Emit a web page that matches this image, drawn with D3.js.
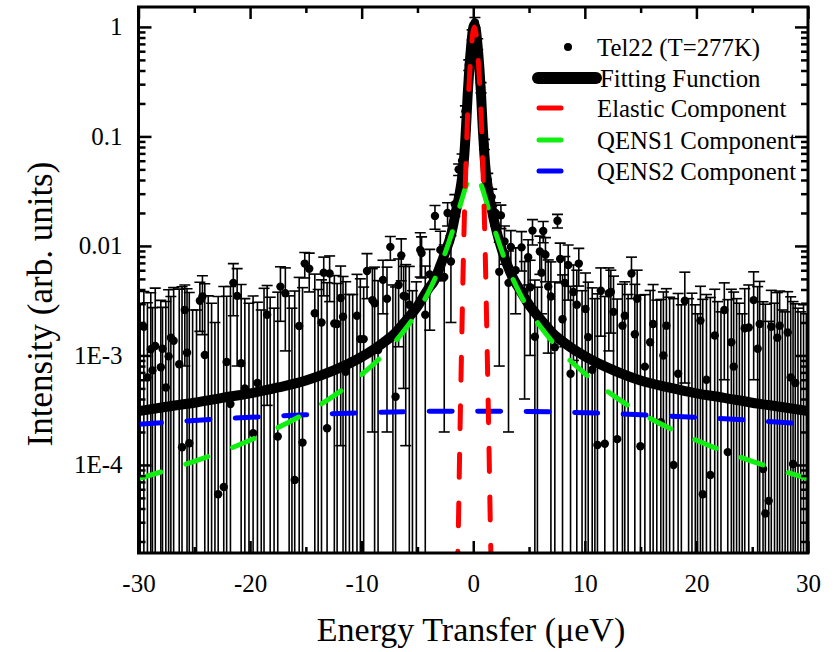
<!DOCTYPE html>
<html><head><meta charset="utf-8">
<script src="https://cdn.jsdelivr.net/npm/d3@7/dist/d3.min.js"></script>
<style>
body{margin:0;background:#fff}
text{font-family:"Liberation Serif","Times New Roman",serif;fill:#000}
</style>
</head><body>
<svg id="chart" width="834" height="652"></svg>
<script>
// ---- tick labels & legend ----
const xTickValues = [-30, -20, -10, 0, 10, 20, 30];
const xTickLabels = ["-30", "-20", "-10", "0", "10", "20", "30"];
const yTickValues = [1, 0.1, 0.01, 1e-3, 1e-4];
const yTickLabels = ["1", "0.1", "0.01", "1E-3", "1E-4"];
const xTitle = "Energy Transfer (\u03bceV)";
const yTitle = "Intensity (arb. units)";
const legendLabels = ["Tel22 (T=277K)", "Fitting Function", "Elastic Component", "QENS1 Component", "QENS2 Component"];

// ---- measured data: energy, intensity, error (negative intensity = bar only, point below zero) ----
const dataE = [-29.52,-29.2,-28.9,-28.75,-28.5,-28.0,-27.85,-27.55,-27.3,-27.1,-26.85,-26.35,-26.1,-25.85,-25.65,-25.45,-24.5,-24.27,-24.06,-22.86,-22.36,-22.1,-21.76,-21.5,-21.16,-20.8,-20.47,-19.73,-19.34,-18.47,
 -17.52,-17.28,-16.84,-16.0,-15.6,-15.3,-15.1,-14.7,-14.2,-13.6,-13.4,-13.1,-12.87,-12.45,-12.2,-11.88,-11.67,-11.43,-10.42,-10.12,-9.82,-9.52,-9.04,-8.84,-8.53,-8.09,-7.73,-7.43,-6.96,-6.69,-6.45,-6.24,
 -6.05,-5.73,-4.75,-4.63,-4.3,-3.9,-3.43,-2.95,-2.6,-2.3,-2.0,-1.65,-1.31,-1.0,-0.7,-0.4,-0.1,0.15,0.4,0.7,1.0,1.3,1.65,2.0,2.33,2.48,2.8,3.16,3.37,3.8,4.33,4.6,4.92,5.1,5.31,5.52,
 5.97,6.12,6.27,6.47,6.72,6.96,7.31,7.55,7.79,8.0,8.21,8.51,8.72,8.98,9.28,9.46,10.06,10.3,10.66,11.13,11.43,11.79,12.15,12.33,12.57,12.9,13.37,13.58,14.18,14.48,14.69,14.98,15.38,15.85,16.12,16.81,17.04,17.31,17.95,
 18.36,18.96,20.36,20.57,20.9,21.25,21.64,22.5,22.81,23.13,23.34,24.33,24.69,25.13,25.49,25.67,25.97,26.18,26.48,26.71,27.25,27.46,28.18,28.45,28.66,28.86,
 -29.85,-25.15,-24.8,-23.75,-23.45,-23.15,-20.1,-19.0,-18.75,-18.2,-17.85,-16.5,-16.25,-13.9,-11.1,-10.8,-7.2,-5.45,-5.1,5.75,9.75,10.9,13.88,16.45,17.6,18.65,19.3,19.6,19.9,20.1,21.9,22.2,23.6,23.85,24.1,27.0,27.7,27.95,29.1,29.35,29.6,29.85];
const dataI = [1.83e-3,6.3e-4,1.14e-3,7.3e-4,1.22e-3,7.8e-4,1.15e-3,5.1e-4,9.8e-4,1.45e-3,1.36e-3,8.3e-4,1.45e-4,2.6e-3,1.06e-3,1.58e-4,3.16e-3,3.45e-3,1.01e-3,5.4e-5,6.3e-5,8.7e-4,3.6e-4,4.6e-3,3.5e-3,8.5e-4,5.0e-4,1.95e-4,5.6e-4,2.35e-3,
 1.82e-4,4.25e-3,3.7e-3,7.3e-5,1.86e-3,1.6e-4,6.9e-3,6.2e-3,2.43e-3,2.0e-3,5.7e-3,2.16e-4,5.6e-3,1.96e-3,1.94e-3,3.35e-3,2.26e-3,7.1e-4,2.3e-3,1.41e-3,1.41e-3,5.9e-3,3.2e-3,3.0e-3,1.12e-3,4.9e-3,3.3e-3,9.8e-3,4.2e-4,4.4e-3,8.2e-3,3.5e-3,
 3.45e-3,2.9e-3,9.2e-3,8.6e-3,2.35e-3,5.5e-3,1.88e-2,9.2e-3,5.2e-3,2.0e-2,7.2e-3,2.4e-2,5.0e-2,0.06,0.17,0.45,0.85,1.1,0.7,0.28,0.085,0.04,0.028,0.02,5.8e-3,1.9e-2,1.1e-2,4.6e-3,9.8e-3,6.0e-3,9.7e-3,3.8e-3,7.9e-3,4.2e-3,1.38e-2,1.48e-3,
 8.9e-3,5.7e-3,1.37e-2,8.3e-3,4.25e-3,3.45e-3,1.19e-3,1.7e-2,7.6e-3,2.14e-3,4.6e-3,6.7e-3,6.8e-4,3.8e-3,2.9e-3,6.9e-3,2.66e-3,1.47e-3,7.4e-4,1.52e-4,3.9e-3,1.56e-4,3.7e-3,3.8e-3,2.5e-3,1.72e-4,1.87e-3,2.3e-3,5.6e-3,1.56e-3,3.3e-3,1.48e-4,7.9e-4,1.32e-3,1.94e-3,2.46e-4,1.0e-3,1.87e-3,1.0e-4,
 6.8e-4,3.16e-3,2.08e-3,5.4e-5,6.0e-4,8.1e-5,1.52e-3,2.6e-3,1.31e-4,1.32e-3,7.9e-4,1.77e-3,1.8e-3,3.2e-3,1.15e-3,1.94e-3,9.2e-5,3.6e-5,4.7e-5,1.83e-3,1.45e-3,1.87e-3,1.62e-3,6.3e-4,1.02e-4,5.6e-4,
 -3e-4,-4e-4,-2e-4,-5e-4,-3e-4,-6e-4,-4e-4,-3e-4,-5e-4,-2e-4,-4e-4,-3e-4,-5e-4,-4e-4,-3e-4,-6e-4,-4e-4,-5e-4,-3e-4,-4e-4,-3e-4,-5e-4,-4e-4,-3e-4,-5e-4,-4e-4,-3e-4,-5e-4,-2e-4,-4e-4,-3e-4,-5e-4,-4e-4,-2e-4,-5e-4,-3e-4,-4e-4,-2e-4,-4e-4,-3e-4,-5e-4,-2e-4];
const dataErr = [2.0e-3,2.4e-3,2.6e-3,2.0e-3,2.9e-3,2.4e-3,1.6e-3,2.6e-3,3.0e-3,2.0e-3,2.8e-3,3.2e-3,4.1e-3,1.8e-3,3.0e-3,3.6e-3,1.5e-3,1.9e-3,3.5e-3,3.4e-3,4.2e-3,2.6e-3,3.9e-3,2.3e-3,2.7e-3,3.6e-3,2.8e-3,3.3e-3,2.5e-3,2.0e-3,
 3.6e-3,2.2e-3,2.6e-3,3.8e-3,3.3e-3,4.0e-3,1.8e-3,2.4e-3,3.1e-3,2.9e-3,2.2e-3,4.4e-3,2.5e-3,3.4e-3,2.6e-3,3.2e-3,3.0e-3,4.0e-3,3.2e-3,3.6e-3,2.8e-3,2.6e-3,3.0e-3,3.4e-3,3.7e-3,2.5e-3,3.1e-3,2.4e-3,3.8e-3,3.2e-3,3.4e-3,3.0e-3,
 3.3e-3,3.6e-3,4.0e-3,3.5e-3,4.2e-3,3.8e-3,4.6e-3,4.4e-3,5.0e-3,4.8e-3,5.2e-3,5.4e-3,6.0e-3,9.0e-3,0.02,0.05,0.09,0.12,0.08,0.03,9.0e-3,6.0e-3,5.0e-3,4.8e-3,5.0e-3,4.6e-3,4.2e-3,4.4e-3,4.0e-3,3.6e-3,3.8e-3,3.4e-3,3.5e-3,3.2e-3,3.6e-3,3.4e-3,
 3.4e-3,3.3e-3,3.0e-3,3.6e-3,3.2e-3,3.7e-3,3.5e-3,2.4e-3,3.0e-3,3.3e-3,3.4e-3,3.5e-3,3.6e-3,2.9e-3,3.1e-3,2.6e-3,3.0e-3,3.2e-3,3.4e-3,3.5e-3,2.4e-3,3.3e-3,2.6e-3,2.2e-3,2.8e-3,3.1e-3,2.6e-3,2.4e-3,2.3e-3,2.9e-3,2.7e-3,3.4e-3,2.8e-3,2.6e-3,2.5e-3,3.0e-3,2.8e-3,2.2e-3,3.2e-3,
 3.0e-3,2.6e-3,2.2e-3,3.2e-3,3.0e-3,3.3e-3,2.5e-3,2.0e-3,3.1e-3,2.7e-3,3.0e-3,2.3e-3,2.6e-3,2.6e-3,3.1e-3,2.8e-3,3.0e-3,2.9e-3,2.0e-3,2.1e-3,2.3e-3,2.0e-3,2.2e-3,2.8e-3,3.0e-3,2.4e-3,
 3.2e-3,3.0e-3,2.8e-3,4.0e-3,3.3e-3,2.6e-3,3.4e-3,2.9e-3,4.6e-3,3.6e-3,3.1e-3,3.8e-3,3.2e-3,4.4e-3,3.9e-3,4.2e-3,4.8e-3,4.4e-3,5.0e-3,4.6e-3,4.2e-3,3.8e-3,4.0e-3,3.5e-3,3.9e-3,3.3e-3,3.6e-3,4.2e-3,3.1e-3,2.8e-3,3.4e-3,3.0e-3,3.7e-3,3.2e-3,2.9e-3,3.3e-3,3.0e-3,2.7e-3,3.1e-3,2.8e-3,3.4e-3,2.6e-3];

// ---- fitted curves ----
const fitE = [-30,-27.5,-25,-22.5,-20,-17.5,-15,-12.5,-10,-8,-7,-6,-5,-4,-3.5,-3,-2.5,-2,-1.5,-1.25,-1,-0.8,-0.65,-0.5,-0.35,-0.2,-0.05,0.1,0.25,0.4,0.55,0.7,0.85,1.0,1.15,1.35,1.6,2.1,2.6,3.1,3.6,4.1,5.1,6.1,7.1,8.1,10.1,12.6,15,17.5,20,22.5,25,27.5,30];
const fitI = [3.1e-4,3.4e-4,3.7e-4,4.1e-4,4.5e-4,5.1e-4,5.9e-4,7.3e-4,9.7e-4,1.32e-3,1.6e-3,2.1e-3,2.8e-3,4.1e-3,4.8e-3,6.4e-3,8.8e-3,0.0125,0.022,0.029,0.042,0.068,0.12,0.24,0.42,0.65,0.92,1.04,0.92,0.65,0.42,0.24,0.12,0.068,0.045,0.032,0.023,0.0135,9.0e-3,6.5e-3,5.0e-3,4.1e-3,2.8e-3,2.1e-3,1.6e-3,1.32e-3,9.7e-4,7.3e-4,5.9e-4,5.1e-4,4.5e-4,4.1e-4,3.7e-4,3.4e-4,3.1e-4];
const elasticE = [-1.45,-1.35,-1.2,-1.05,-0.9,-0.775,-0.65,-0.525,-0.4,-0.275,-0.15,-0.025,0.1,0.225,0.35,0.475,0.6,0.725,0.85,0.975,1.1,1.25,1.4,1.55,1.65];
const elasticI = [8e-6,2.2e-5,1.7e-4,1.1e-3,6.5e-3,0.022,0.058,0.14,0.27,0.45,0.67,0.9,1.0,0.9,0.67,0.45,0.27,0.14,0.058,0.022,6.5e-3,1.1e-3,1.7e-4,2.2e-5,8e-6];
const qens1E = [-30,-25,-20,-15,-12.5,-10,-8,-6,-5,-4,-3,-2,-1.5,-1,-0.5,0,0.1,0.6,1.1,1.6,2.1,3.1,4.1,5.1,6.1,8.1,10.1,12.6,15,20,25,30];
const qens1I = [7.5e-5,1.08e-4,1.68e-4,2.98e-4,4.27e-4,6.7e-4,1.03e-3,1.79e-3,2.5e-3,3.8e-3,6.4e-3,0.0123,0.018,0.027,0.0385,0.044,0.045,0.0385,0.027,0.018,0.0123,6.4e-3,3.8e-3,2.5e-3,1.79e-3,1.03e-3,6.7e-4,4.27e-4,2.98e-4,1.68e-4,1.08e-4,7.5e-5];
const qens2E = [-30,-25,-20,-15,-10,-5,0,5,10,15,20,25,30];
const qens2I = [2.35e-4,2.55e-4,2.72e-4,2.87e-4,3.0e-4,3.08e-4,3.1e-4,3.08e-4,3.0e-4,2.87e-4,2.72e-4,2.55e-4,2.35e-4];

// ---- layout ----
const svg = d3.select("#chart");
const L = 138.5, R = 808, T = 7, B = 553;
const x = d3.scaleLinear().domain([-30, 30]).range([L, R]);
const y = d3.scaleLog().domain([1.57e-5, 1.52]).range([B, T]);

svg.append("rect").attr("width", 834).attr("height", 652).attr("fill", "#fff");
svg.append("defs").append("clipPath").attr("id", "clip")
  .append("rect").attr("x", L).attr("y", T).attr("width", R - L).attr("height", B - T);

const plot = svg.append("g").attr("clip-path", "url(#clip)");

// error bars
const pts = dataE.map((e, i) => ({e, v: dataI[i], s: dataErr[i]}));
const capW = 5.5;
const eb = plot.append("g").attr("stroke", "#000").attr("stroke-width", 1.6).attr("fill", "none");
pts.forEach(p => {
  const top = y(p.v + p.s);
  const lowV = p.v - p.s;
  const bot = lowV > 1e-6 ? y(lowV) : B + 5;
  const cx = x(p.e);
  eb.append("line").attr("x1", cx).attr("x2", cx).attr("y1", top).attr("y2", bot);
  eb.append("line").attr("x1", cx - capW).attr("x2", cx + capW).attr("y1", top).attr("y2", top);
  if (lowV > 1e-6) eb.append("line").attr("x1", cx - capW).attr("x2", cx + capW).attr("y1", bot).attr("y2", bot);
});
plot.append("g").selectAll("circle").data(pts.filter(p => p.v > 0)).join("circle")
  .attr("cx", d => x(d.e)).attr("cy", d => y(d.v)).attr("r", 4.2).attr("fill", "#000");

const lineGen = d3.line().x(d => x(d[0])).y(d => y(d[1])).curve(d3.curveMonotoneX);
const zip = (a, b) => a.map((v, i) => [v, b[i]]);

// find path length where the curve reaches its top
function peakLength(node) {
  const total = node.getTotalLength();
  let best = 0, bestY = Infinity;
  for (let s = 0; s <= total; s += 0.5) { const p = node.getPointAtLength(s); if (p.y < bestY) { bestY = p.y; best = s; } }
  return best;
}

plot.append("path").attr("d", lineGen(zip(fitE, fitI))).attr("fill", "none")
  .attr("stroke", "#000").attr("stroke-width", 10).attr("stroke-linejoin", "round");
plot.append("path").attr("d", lineGen(zip(qens2E, qens2I))).attr("fill", "none")
  .attr("stroke", "#0000ff").attr("stroke-width", 5).attr("stroke-dasharray", "23,25.5").attr("stroke-linecap", "round");

const g1 = plot.append("path").attr("d", lineGen(zip(qens1E, qens1I))).attr("fill", "none")
  .attr("stroke", "#11ee11").attr("stroke-width", 5).attr("stroke-linecap", "round");
{
  const lp = peakLength(g1.node());
  const k = Math.max(1, Math.round(lp / 48.5 - 0.73));
  const P = lp / (k + 0.73);
  g1.attr("stroke-dasharray", `${(0.47 * P).toFixed(2)},${(0.53 * P).toFixed(2)}`);
}
const rd = plot.append("path").attr("d", d3.line().x(d => x(d[0])).y(d => y(d[1])).curve(d3.curveCatmullRom)(zip(elasticE, elasticI)))
  .attr("fill", "none").attr("stroke", "#ff0000").attr("stroke-width", 5).attr("stroke-linecap", "round");
{
  const lp = peakLength(rd.node());
  const P = 48.5, d = 23;
  const off = (((lp - (d + (P - d) / 2)) % P) + P) % P;
  rd.attr("stroke-dasharray", `${d},${P - d}`).attr("stroke-dashoffset", off);
}

// ---- axes ----
const minorX = d3.range(-25, 30, 10);
const minorY = [];
for (let dd = -5; dd <= 0; dd++) for (let k = 2; k <= 9; k++) { const v = k * Math.pow(10, dd); if (v > 1.57e-5 && v < 1.52) minorY.push(v); }

function styleAxis(g) { g.select(".domain").remove(); g.selectAll(".tick line").attr("stroke", "#000").attr("stroke-width", 2.5); }

svg.append("g").attr("transform", `translate(0,${B})`)
  .call(d3.axisBottom(x).tickValues(xTickValues).tickSizeInner(-12).tickSizeOuter(0).tickPadding(21).tickFormat((d, i) => xTickLabels[i]))
  .call(styleAxis)
  .call(g => g.selectAll("text").attr("font-size", 25));
svg.append("g").attr("transform", `translate(0,${B})`)
  .call(d3.axisBottom(x).tickValues(minorX).tickSizeInner(-6).tickSizeOuter(0).tickFormat(""))
  .call(styleAxis);
svg.append("g").attr("transform", `translate(0,${T})`)
  .call(d3.axisTop(x).tickValues(xTickValues).tickSizeInner(-12).tickSizeOuter(0).tickFormat(""))
  .call(styleAxis);
svg.append("g").attr("transform", `translate(0,${T})`)
  .call(d3.axisTop(x).tickValues(minorX).tickSizeInner(-6).tickSizeOuter(0).tickFormat(""))
  .call(styleAxis);

svg.append("g").attr("transform", `translate(${L},0)`)
  .call(d3.axisLeft(y).tickValues(yTickValues).tickSizeInner(-13).tickSizeOuter(0).tickPadding(16).tickFormat((d, i) => yTickLabels[i]))
  .call(styleAxis)
  .call(g => g.selectAll("text").attr("font-size", 25));
svg.append("g").attr("transform", `translate(${L},0)`)
  .call(d3.axisLeft(y).tickValues(minorY).tickSizeInner(-7).tickSizeOuter(0).tickFormat(""))
  .call(styleAxis);
svg.append("g").attr("transform", `translate(${R},0)`)
  .call(d3.axisRight(y).tickValues(yTickValues).tickSizeInner(-13).tickSizeOuter(0).tickFormat(""))
  .call(styleAxis);
svg.append("g").attr("transform", `translate(${R},0)`)
  .call(d3.axisRight(y).tickValues(minorY).tickSizeInner(-7).tickSizeOuter(0).tickFormat(""))
  .call(styleAxis);

svg.append("rect").attr("x", L).attr("y", T).attr("width", R - L).attr("height", B - T)
  .attr("fill", "none").attr("stroke", "#000").attr("stroke-width", 3);

// titles
svg.append("text").attr("x", 471).attr("y", 641).attr("text-anchor", "middle")
  .attr("font-size", 34).text(xTitle);
svg.append("text").attr("transform", "translate(52,304) rotate(-90)").attr("text-anchor", "middle")
  .attr("font-size", 35).text(yTitle);

// ---- legend ----
const lg = svg.append("g");
const lgY = [47, 78, 108, 140, 171];
lg.append("circle").attr("cx", 568).attr("cy", lgY[0]).attr("r", 4).attr("fill", "#000");
lg.append("line").attr("x1", 538).attr("x2", 596).attr("y1", lgY[1]).attr("y2", lgY[1])
  .attr("stroke", "#000").attr("stroke-width", 12).attr("stroke-linecap", "round");
const lgColors = ["#ff0000", "#11ee11", "#0000ff"];
lgColors.forEach((c, i) => lg.append("line").attr("x1", 539).attr("x2", 561).attr("y1", lgY[i + 2]).attr("y2", lgY[i + 2])
  .attr("stroke", c).attr("stroke-width", 5).attr("stroke-linecap", "round"));
legendLabels.forEach((t, i) => lg.append("text").attr("x", i === 1 ? 600 : 597).attr("y", lgY[i] + 8.5)
  .attr("font-size", 24.8).text(t));
</script>
</body></html>
